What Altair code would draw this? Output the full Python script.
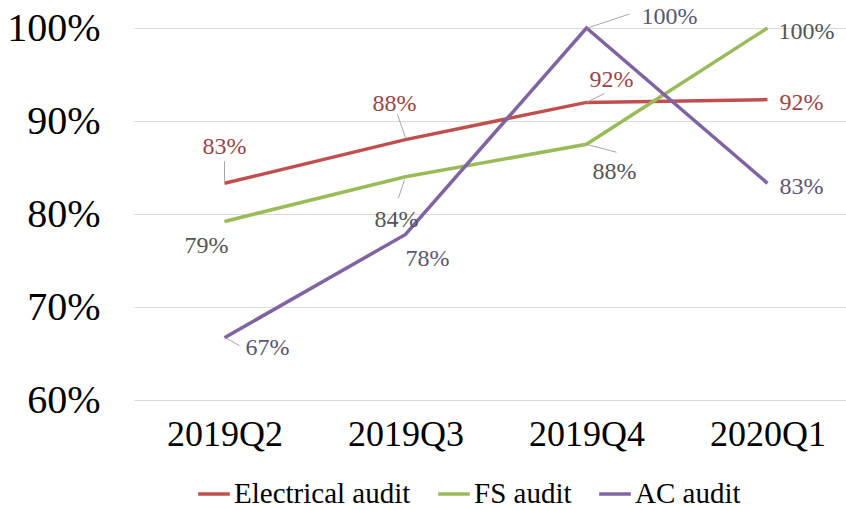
import altair as alt
import pandas as pd

# Quarterly audit pass rates
quarters = ["2019Q2", "2019Q3", "2019Q4", "2020Q1"]
series_names = ["Electrical audit", "FS audit", "AC audit"]
electrical = [0.833, 0.880, 0.920, 0.923]
fs_audit = [0.792, 0.840, 0.875, 1.000]
ac_audit = [0.667, 0.778, 1.000, 0.833]

line_colors = ["#C0504D", "#9BBB59", "#8064A2"]
label_colors = {"Electrical audit": "#9a4545", "FS audit": "#555555", "AC audit": "#5c5670"}

FONT = "Liberation Serif"

rows = []
for name, vals in zip(series_names, [electrical, fs_audit, ac_audit]):
    for q, v in zip(quarters, vals):
        rows.append({"series": name, "quarter": q, "value": v})
df = pd.DataFrame(rows)

# value label placement (pixel offsets from each point)
label_offsets = {
    ("Electrical audit", "2019Q2"): (0, -36),
    ("Electrical audit", "2019Q3"): (-11, -36),
    ("Electrical audit", "2019Q4"): (25, -22),
    ("Electrical audit", "2020Q1"): (34, 3),
    ("FS audit", "2019Q2"): (-18, 25),
    ("FS audit", "2019Q3"): (-9, 43),
    ("FS audit", "2019Q4"): (28, 28),
    ("FS audit", "2020Q1"): (39, 4),
    ("AC audit", "2019Q2"): (43, 10),
    ("AC audit", "2019Q3"): (22, 25),
    ("AC audit", "2019Q4"): (83, -11),
    ("AC audit", "2020Q1"): (34, 4),
}

# leader lines: (start dx, start dy, end dx, end dy)
leaders = {
    ("Electrical audit", "2019Q2"): (0, -2, 0, -22),
    ("Electrical audit", "2019Q3"): (0, -2, -8, -25),
    ("Electrical audit", "2019Q4"): (0, 0, 18, -9),
    ("FS audit", "2019Q3"): (-1, 3, -7, 21),
    ("FS audit", "2019Q4"): (0, 0, 30, 8),
    ("AC audit", "2019Q2"): (1, 0, 15, 8),
    ("AC audit", "2019Q4"): (1, 0, 43, -14),
}

x_enc = alt.X(
    "quarter:N",
    sort=quarters,
    scale=alt.Scale(type="point", range=[0, 724], padding=0.5),
    axis=alt.Axis(
        title=None, labelAngle=0, domain=False, ticks=False, grid=False,
        labelFont=FONT, labelFontSize=36, labelColor="#000000", labelPadding=17,
    ),
)
y_enc = alt.Y(
    "value:Q",
    scale=alt.Scale(domain=[0.6, 1.0], nice=False, zero=False),
    axis=alt.Axis(
        title=None, format=".0%", values=[0.6, 0.7, 0.8, 0.9, 1.0],
        grid=True, gridColor="#d9d9d9", gridWidth=1, domain=False, ticks=False,
        labelFont=FONT, labelFontSize=40, labelColor="#000000", labelPadding=34,
    ),
)

lines = alt.Chart(df).mark_line(strokeWidth=3.5).encode(
    x=x_enc,
    y=y_enc,
    color=alt.Color(
        "series:N",
        scale=alt.Scale(domain=series_names, range=line_colors),
        legend=alt.Legend(
            title=None, orient="none", direction="horizontal",
            legendX=62, legendY=448,
            symbolType="stroke", symbolStrokeWidth=3.5, symbolSize=1000,
            labelFont=FONT, labelFontSize=29, labelColor="#000000",
            labelOffset=2, columnPadding=20, labelLimit=0,
        ),
    ),
)

layers = [lines]

for (s, q), (a, b, c, d) in leaders.items():
    layers.append(
        alt.Chart(df)
        .transform_filter((alt.datum.series == s) & (alt.datum.quarter == q))
        .mark_rule(color="#a6a6a6", strokeWidth=1,
                   xOffset=a, yOffset=b, x2Offset=c, y2Offset=d)
        .encode(x=x_enc, y=y_enc, x2=alt.X2("quarter"), y2=alt.Y2("value"))
    )

for (s, q), (dx, dy) in label_offsets.items():
    layers.append(
        alt.Chart(df)
        .transform_filter((alt.datum.series == s) & (alt.datum.quarter == q))
        .mark_text(dx=dx, dy=dy, font=FONT, fontSize=24,
                   color=label_colors[s], align="center", baseline="middle")
        .encode(x=x_enc, y=y_enc, text=alt.Text("value:Q", format=".0%"))
    )

chart = (
    alt.layer(*layers)
    .properties(
        width=712, height=372,
        autosize=alt.AutoSizeParams(type="none"),
        padding={"left": 134, "top": 28, "right": 0, "bottom": 110},
    )
    .configure(font=FONT, background="#ffffff")
    .configure_view(stroke=None)
)

chart.save("out.html", embed_options={"renderer": "svg", "actions": False})
